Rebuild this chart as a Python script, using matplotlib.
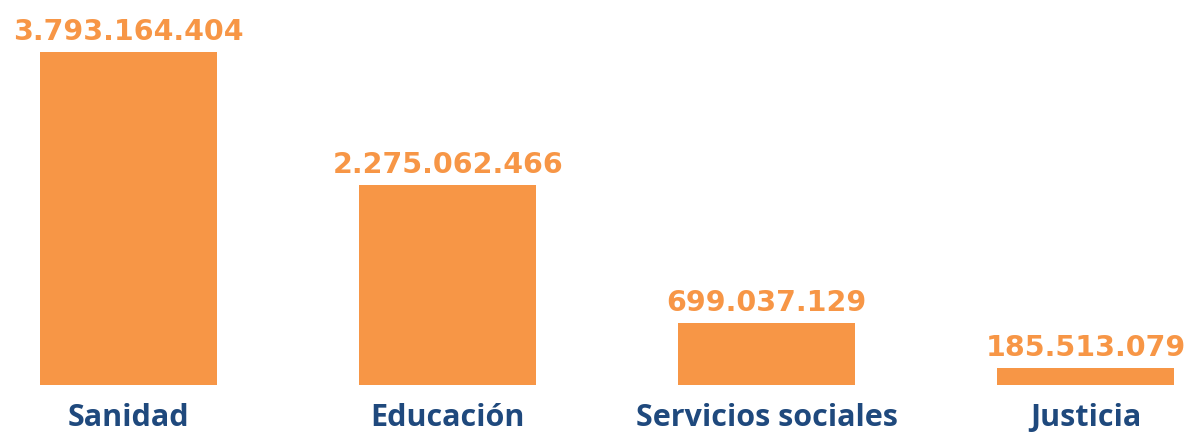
import matplotlib
matplotlib.use("Agg")
import matplotlib.pyplot as plt

categories = ["Sanidad", "Educación", "Servicios sociales", "Justicia"]
values = [3793164404, 2275062466, 699037129, 185513079]
value_labels = ["3.793.164.404", "2.275.062.466", "699.037.129", "185.513.079"]

orange = "#F79646"
blue = "#1F497D"

plt.rcParams["font.family"] = ["Open Sans", "DejaVu Sans"]

fig = plt.figure(figsize=(11.89, 4.32), dpi=100)
ax = fig.add_axes([0, 0.1095, 1, 0.8905])

x = range(len(categories))
bars = ax.bar(x, values, width=0.555, color=orange)

# numbers above each bar, wide digits
for b, lab in zip(bars, value_labels):
    ax.annotate(lab, xy=(b.get_x() + b.get_width() / 2, b.get_height()),
                xytext=(0, 8.6), textcoords="offset points",
                ha="center", va="baseline", color=orange,
                fontsize=20.5, fontweight="bold", family="DejaVu Sans")

ax.set_xlim(-0.403, 3.323)
ax.set_ylim(0, 3793164404 * 384.7 / 332.7)
ax.set_xticks(list(x))
ax.set_xticklabels(categories, fontsize=22, fontweight="bold", color=blue)
ax.tick_params(axis="x", length=0, pad=13)
ax.set_yticks([])
for s in ax.spines.values():
    s.set_visible(False)

fig.savefig("out.png", dpi=100)
